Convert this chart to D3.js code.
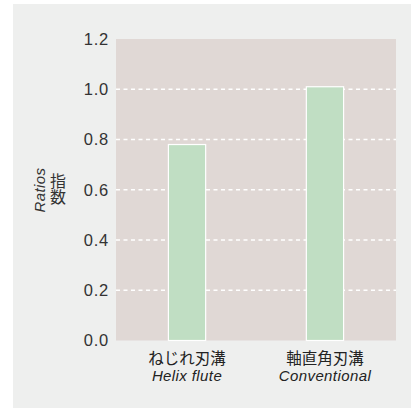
<!DOCTYPE html>
<html>
<head>
<meta charset="utf-8">
<script src="https://cdn.jsdelivr.net/npm/d3@7"></script>
<style>
    html, body { margin: 0; padding: 0; background: #fff; }
    text { font-family: "Liberation Sans", Arial, "Noto Sans CJK JP", sans-serif; }
</style>
</head>
<body>
<svg id="chart" width="411" height="408"></svg>
<script>
"use strict";

var categoriesJa = ["ねじれ刃溝", "軸直角刃溝"];
var categoriesEn = ["Helix flute", "Conventional"];
var ratios = [0.78, 1.01];
var yTicks = [0, 0.2, 0.4, 0.6, 0.8, 1.0, 1.2];

var svg = d3.select("#chart");

//外枠の背景
svg.append("rect")
    .attr("x", 13).attr("y", 4)
    .attr("width", 398).attr("height", 404)
    .attr("fill", "#eeefee");

var plot = {left: 116, right: 396, top: 39, bottom: 340.5};

var x = d3.scaleBand()
    .domain(categoriesJa)
    .range([plot.left, plot.right])
    .paddingInner(0.73)
    .paddingOuter(0.38);

var y = d3.scaleLinear()
    .domain([0, 1.2])
    .range([plot.bottom, plot.top]);

//プロット領域
svg.append("rect")
    .attr("x", plot.left).attr("y", plot.top)
    .attr("width", plot.right - plot.left)
    .attr("height", plot.bottom - plot.top)
    .attr("fill", "#e0d8d5");

//グリッド線
svg.append("g").selectAll("line")
    .data(yTicks.filter(function(d){ return d > 0 && d < 1.2; }))
    .enter().append("line")
    .attr("x1", plot.left).attr("x2", plot.right)
    .attr("y1", function(d){ return y(d); })
    .attr("y2", function(d){ return y(d); })
    .attr("stroke", "#fff")
    .attr("stroke-width", 1.5)
    .attr("stroke-dasharray", "4,3.5");

//棒
svg.append("g").selectAll("rect")
    .data(ratios)
    .enter().append("rect")
    .attr("x", function(d, i){ return x(categoriesJa[i]); })
    .attr("y", function(d){ return y(d); })
    .attr("width", x.bandwidth())
    .attr("height", function(d){ return y(0) - y(d); })
    .attr("fill", "#c0dec3")
    .attr("stroke", "#fff")
    .attr("stroke-width", 1.2);

//Y軸
var yAxis = svg.append("g")
    .attr("transform", "translate(" + plot.left + ",0)")
    .call(d3.axisLeft(y).tickValues(yTicks).tickFormat(d3.format(".1f")).tickSize(0).tickPadding(7));
yAxis.select(".domain").remove();
yAxis.selectAll("text")
    .attr("font-size", 16.5)
    .attr("letter-spacing", 0.8)
    .attr("fill", "#333")
    .attr("font-family", "Liberation Sans, Arial, sans-serif");

//X軸ラベル
var xLabels = svg.append("g");
xLabels.selectAll(".ja")
    .data(categoriesJa)
    .enter().append("text")
    .attr("class", "ja")
    .attr("x", function(d){ return x(d) + x.bandwidth() / 2; })
    .attr("y", 364)
    .attr("text-anchor", "middle")
    .attr("font-size", 15.5)
    .attr("fill", "#222")
    .style("font-family", "'Noto Sans CJK JP', sans-serif")
    .text(function(d){ return d; });
xLabels.selectAll(".en")
    .data(categoriesEn)
    .enter().append("text")
    .attr("class", "en")
    .attr("x", function(d, i){ return x(categoriesJa[i]) + x.bandwidth() / 2; })
    .attr("y", 381)
    .attr("text-anchor", "middle")
    .attr("font-size", 15)
    .attr("letter-spacing", 0.4)
    .attr("font-style", "italic")
    .attr("fill", "#222")
    .text(function(d){ return d; });

//Y軸タイトル
svg.append("text")
    .attr("transform", "translate(45,190) rotate(-90)")
    .attr("text-anchor", "middle")
    .attr("font-size", 15)
    .attr("letter-spacing", 0.4)
    .attr("font-style", "italic")
    .attr("fill", "#333")
    .text("Ratios");
svg.append("text")
    .attr("x", 58)
    .attr("y", 189)
    .attr("text-anchor", "middle")
    .attr("font-size", 16)
    .attr("fill", "#333")
    .style("writing-mode", "vertical-rl")
    .style("font-family", "'Noto Sans CJK JP', sans-serif")
    .text("指数");
</script>
</body>
</html>
